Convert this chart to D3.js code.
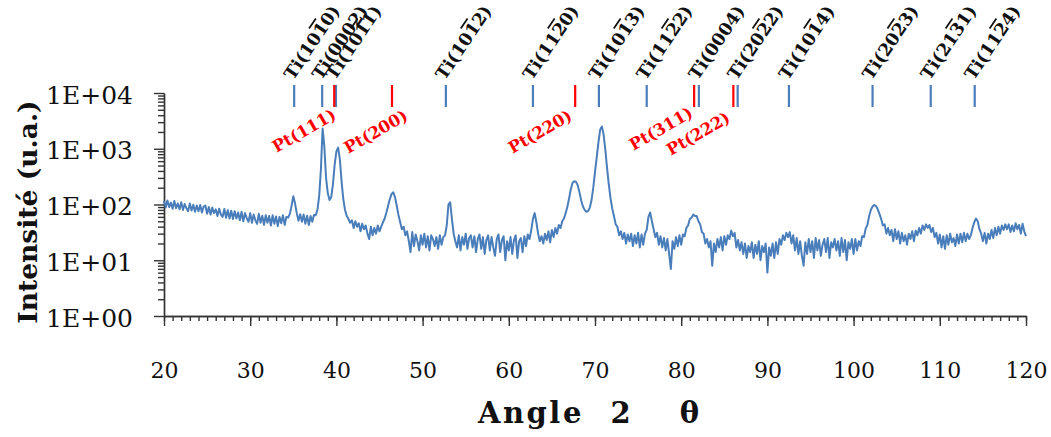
<!DOCTYPE html>
<html><head><meta charset="utf-8">
<script src="https://cdn.jsdelivr.net/npm/d3@7"></script>
<style>body{margin:0;background:#fff}svg{display:block}</style>
</head><body><svg id="c" width="1051" height="437"></svg>
<script>
// ---- data ----
const angleStart = 20, angleStep = 0.2;
const counts = [
115,88,118,90,108,84,116,86,104,82,
110,80,102,86,76,104,78,99,74,96,
76,98,72,92,96,68,90,66,88,70,
82,62,84,66,60,83,58,79,56,77,
55,76,56,72,52,74,50,70,57,49,
70,47,66,52,45,68,47,63,43,64,
47,62,42,64,45,61,41,60,46,64,
43,60,58,68,95,140,105,70,51,67,
49,66,45,63,43,62,49,65,64,80,
140,420,2300,1100,300,160,120,135,230,520,
900,1050,650,260,125,80,62,55,47,52,
38,50,40,46,33,45,36,42,30,24,
40,28,38,30,42,33,40,48,56,72,
95,125,155,165,135,95,65,48,36,40,
28,33,22,14,32,18,29,22,15,28,
19,30,17,27,15,28,24,18,26,16,
28,19,26,28,42,100,110,55,30,22,
17,28,15,26,19,30,16,25,28,17,
27,14,24,29,16,26,13,23,28,15,
26,17,12,24,29,14,23,27,10,22,
15,26,13,23,28,11,22,25,14,27,
18,29,24,34,55,70,48,30,22,27,
20,30,23,33,21,35,26,38,30,43,
38,50,56,70,92,130,190,245,262,255,
220,165,118,92,80,74,76,88,120,200,
380,700,1300,2200,2500,1800,950,450,230,130,
85,62,44,40,28,33,24,31,20,29,
22,30,18,28,20,31,17,29,19,30,
35,60,72,50,36,26,31,19,27,17,
25,15,24,13,7,22,16,26,18,28,
19,29,27,38,42,55,58,66,62,62,
50,44,32,30,20,24,17,22,8,20,
14,24,17,26,15,27,19,28,24,34,
27,31,17,23,15,21,13,20,11,18,
14,21,11,19,13,22,10,18,14,20,
6,17,12,20,11,21,13,24,19,28,
23,31,26,32,20,28,15,25,13,22,
12,8,21,13,24,14,22,11,25,15,
23,12,19,24,14,25,11,21,17,24,
15,22,12,25,14,23,10,21,16,24,
13,24,15,22,18,27,26,37,43,62,
80,92,98,94,82,68,55,42,44,30,
38,28,35,22,36,24,33,20,31,22,
28,19,30,24,33,22,34,28,38,30,
42,35,44,38,43,32,38,26,31,20,
29,17,27,16,28,19,30,21,25,18,
29,20,30,21,31,22,30,24,28,38,
48,56,50,36,30,22,31,20,30,24,
35,25,38,28,40,30,42,35,44,36,
44,32,42,33,46,36,43,30,45,33,
27
];
const tiPeaks = [35.1, 38.35, 39.95, 52.7, 62.8, 70.45, 76.0, 82.05, 86.55, 92.5, 102.2, 108.95, 114.05];
// Miller-Bravais indices, "-" marks an overbarred (negative) index
const tiIndices = ["1 0 -1 0","0 0 0 2","1 0 -1 1","1 0 -1 2","1 1 -2 0","1 0 -1 3",
  "1 1 -2 2","0 0 0 4","2 0 -2 2","1 0 -1 4","2 0 -2 3","2 1 -3 1","1 1 -2 4"];
const ptPeaks = [39.75, 46.45, 67.7, 81.5, 86.05];
const ptLabels = ["Pt(111)","Pt(200)","Pt(220)","Pt(311)","Pt(222)"];
const xTicks = [20,30,40,50,60,70,80,90,100,110,120];
const yTicks = [1,10,100,1000,10000];
const yTickLabels = ["1E+00","1E+01","1E+02","1E+03","1E+04"];
const xTitleParts = ["Angle", " 2", " θ"];
const yTitle = "Intensité (u.a.)";

// ---- layout ----
const ptNudge = [[3,118],[17,119],[-2,119],[0,116],[-2,121]];
const svg = d3.select("#c");
const font = "'DejaVu Serif', serif";
const x = d3.scaleLinear().domain([20,120]).range([164,1026]);
const y = d3.scaleLog().domain([1,10000]).range([316,93]);
const axisCol = "#333";

const gxm = svg.append("g").attr("transform","translate(0,316)")
  .call(d3.axisBottom(x).tickValues(d3.range(20,121,1)).tickSize(5).tickSizeOuter(0).tickFormat(""));
const gx = svg.append("g").attr("transform","translate(0,316)")
  .call(d3.axisBottom(x).tickValues(xTicks).tickSize(10).tickSizeOuter(0).tickPadding(36));
[gxm,gx].forEach(g=>{g.selectAll("path,line").attr("stroke",axisCol).attr("stroke-width",1.4);});
gx.selectAll("text").attr("font-family",font).attr("font-size",22).attr("fill","#111");

const yMinor = [];
for (let k=0;k<4;k++) for (let m=2;m<10;m++) yMinor.push(m*Math.pow(10,k));
const gym = svg.append("g").attr("transform","translate(164,0)")
  .call(d3.axisLeft(y).tickValues(yMinor).tickSize(6).tickSizeOuter(0).tickFormat(""));
const gy = svg.append("g").attr("transform","translate(164,0)")
  .call(d3.axisLeft(y).tickValues(yTicks).tickSize(10).tickSizeOuter(0).tickPadding(21)
    .tickFormat((d,i)=>yTickLabels[i]));
[gym,gy].forEach(g=>{g.selectAll("path,line").attr("stroke",axisCol).attr("stroke-width",1.4);});
gy.selectAll("text").attr("font-family",font).attr("font-size",25).attr("fill","#111").attr("dy","0.4em");

const line = d3.line().x((d,i)=>x(angleStart+i*angleStep)).y(d=>y(d));
svg.append("path").datum(counts).attr("d",line).attr("fill","none")
  .attr("stroke","#4a7ebb").attr("stroke-width",2).attr("stroke-linejoin","round");

svg.append("g").selectAll("line").data(tiPeaks).join("line")
  .attr("x1",d=>x(d)).attr("x2",d=>x(d)).attr("y1",85).attr("y2",107)
  .attr("stroke","#4a7ebb").attr("stroke-width",2.2);
svg.append("g").selectAll("line").data(ptPeaks).join("line")
  .attr("x1",d=>x(d)).attr("x2",d=>x(d)).attr("y1",85).attr("y2",107)
  .attr("stroke","#ff0000").attr("stroke-width",2.2);

const tiText = svg.append("g").selectAll("text").data(tiPeaks).join("text")
  .attr("transform",d=>`translate(${x(d)-1},81) rotate(-56)`)
  .attr("font-family",font).attr("font-size",17.5).attr("font-weight","bold").attr("fill","#111");
tiText.each(function(d,i){
  const t = d3.select(this);
  t.append("tspan").text("Ti(");
  tiIndices[i].split(" ").forEach(s=>{
    const neg = s.startsWith("-");
    const ts = t.append("tspan").text(neg ? s.slice(1) : s);
    if (neg) ts.style("text-decoration","overline");
  });
  t.append("tspan").text(")");
});

svg.append("g").selectAll("text").data(ptPeaks).join("text")
  .attr("transform",(d,i)=>`translate(${x(d)+ptNudge[i][0]},${ptNudge[i][1]}) rotate(-30)`)
  .attr("text-anchor","end")
  .attr("font-family",font).attr("font-size",16.5).attr("font-weight","bold").attr("fill","#ff0000")
  .text((d,i)=>ptLabels[i]);

const xt = svg.append("text").attr("x",478).attr("y",423)
  .attr("font-family",font).attr("font-size",29).attr("font-weight","bold").attr("fill","#111")
  .style("letter-spacing","2.5px").attr("xml:space","preserve");
const xtDx = [0, 14, 34];
xTitleParts.forEach((p,i)=>xt.append("tspan").attr("dx",xtDx[i]).text(p));
svg.append("text").attr("transform","translate(37,212) rotate(-90)").attr("text-anchor","middle")
  .attr("font-family",font).attr("font-size",26.5).attr("font-weight","bold").attr("fill","#111")
  .text(yTitle);
</script></body></html>
